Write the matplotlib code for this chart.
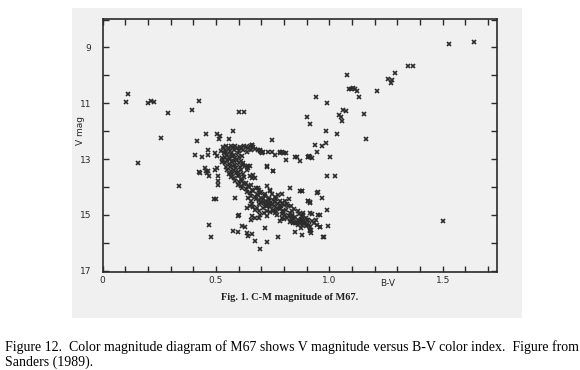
"""Colour-magnitude diagram of M67 (scan of Sanders 1989, Fig. 1) with page caption."""
import matplotlib; matplotlib.use('Agg')
import matplotlib.pyplot as plt
from matplotlib.ticker import MultipleLocator, FixedFormatter, FixedLocator
from matplotlib.patches import Rectangle

# --- data: B-V colour and V magnitude, grouped by region ---
blue_bv = [0.113, 0.103, 0.200, 0.211, 0.228, 0.287, 0.395, 0.423, 0.603, 0.623,
           0.256, 0.154, 0.337, 0.415, 0.456, 0.506, 0.518, 0.515, 0.556, 0.576,
           0.407, 0.437, 0.466, 0.466, 0.426, 0.454, 0.491, 0.498, 0.470, 0.476]
blue_v = [10.68, 10.96, 11.00, 10.92, 10.94, 11.34, 11.23, 10.91, 11.30, 11.30,
          12.25, 13.13, 13.95, 12.36, 12.11, 12.10, 12.19, 12.29, 12.29, 12.01,
          12.85, 12.93, 12.69, 12.85, 13.46, 13.42, 14.42, 14.42, 15.36, 15.80]

giant_bv = [1.527, 1.637, 1.348, 1.369, 1.290, 1.260, 1.277, 1.270, 1.079, 1.085,
            1.094, 1.103, 1.112, 1.120, 1.132, 1.211, 0.942, 0.991, 1.061, 1.072,
            1.153, 1.044, 1.051, 1.054, 0.903, 0.913, 0.984, 1.034, 1.161, 0.936,
            0.966, 0.985, 0.745, 0.856, 0.907, 0.914, 0.922, 1.003, 0.947, 0.911,
            0.988, 1.025, 0.948, 0.906, 0.914, 0.966, 1.503]
giant_v = [8.87, 8.80, 9.67, 9.67, 9.92, 10.13, 10.18, 10.29, 9.98, 10.48,
           10.48, 10.46, 10.50, 10.56, 10.78, 10.55, 10.76, 10.99, 11.26, 11.28,
           11.38, 11.43, 11.50, 11.62, 11.50, 11.74, 11.99, 12.12, 12.29, 12.50,
           12.55, 12.41, 12.32, 12.93, 12.93, 12.93, 12.97, 12.93, 12.76, 12.88,
           13.62, 13.62, 14.19, 14.49, 14.55, 14.38, 15.23]

subgiant_bv = [0.657, 0.664, 0.686, 0.694, 0.701, 0.694, 0.709, 0.747, 0.782, 0.792,
               0.807, 0.809, 0.848, 0.870, 0.907, 0.726, 0.753, 0.657, 0.672, 0.700,
               0.730, 0.760, 0.780, 0.800]
subgiant_v = [12.49, 12.57, 12.67, 12.73, 12.79, 12.67, 12.75, 12.76, 12.79, 12.76,
              12.79, 13.03, 12.93, 13.06, 12.94, 13.28, 13.44, 12.49, 12.64, 12.75,
              12.75, 12.85, 12.75, 12.78]

turnoff_bv = [0.530, 0.545, 0.556, 0.566, 0.575, 0.585, 0.594, 0.604, 0.612, 0.622,
              0.631, 0.640, 0.648, 0.655, 0.538, 0.560, 0.580, 0.600, 0.618, 0.635,
              0.520, 0.545,
              0.535, 0.550, 0.565, 0.580, 0.595, 0.540, 0.555, 0.570, 0.585, 0.600,
              0.532, 0.548, 0.562, 0.578, 0.592, 0.608, 0.540, 0.555, 0.570, 0.585,
              0.600, 0.545, 0.560, 0.575, 0.590, 0.605, 0.550, 0.565, 0.580, 0.595,
              0.612, 0.558, 0.572, 0.588, 0.603, 0.618, 0.566, 0.580, 0.596, 0.612,
              0.625, 0.528, 0.525, 0.615, 0.620]
turnoff_v = [12.58, 12.55, 12.60, 12.52, 12.58, 12.55, 12.62, 12.56, 12.60, 12.53,
             12.58, 12.62, 12.55, 12.66, 12.68, 12.70, 12.68, 12.72, 12.69, 12.74,
             12.72, 12.76,
             12.80, 12.84, 12.82, 12.86, 12.80, 12.92, 12.95, 12.90, 12.96, 12.92,
             13.02, 13.05, 13.00, 13.08, 13.04, 13.06, 13.15, 13.18, 13.12, 13.20,
             13.16, 13.28, 13.30, 13.25, 13.32, 13.28, 13.40, 13.42, 13.38, 13.45,
             13.40, 13.52, 13.55, 13.50, 13.58, 13.52, 13.65, 13.68, 13.62, 13.70,
             13.64, 13.10, 12.95, 12.88, 13.22]

ms_bv = [0.585, 0.600, 0.615, 0.630, 0.595, 0.610, 0.625, 0.640, 0.655, 0.615,
         0.630, 0.645, 0.660, 0.675, 0.635, 0.650, 0.665, 0.680, 0.695, 0.655,
         0.670, 0.685, 0.700, 0.715, 0.675, 0.690, 0.705, 0.720, 0.735,
         0.700, 0.715, 0.730, 0.745, 0.760, 0.775, 0.725, 0.740, 0.755, 0.770,
         0.785, 0.800, 0.750, 0.765, 0.780, 0.795, 0.810, 0.825, 0.790, 0.805,
         0.820, 0.835, 0.850, 0.815, 0.830, 0.845, 0.860, 0.875, 0.855, 0.870,
         0.885, 0.900]
ms_v = [13.78, 13.82, 13.78, 13.85, 13.92, 13.95, 13.90, 13.98, 13.92, 14.05,
        14.08, 14.02, 14.10, 14.05, 14.18, 14.22, 14.16, 14.25, 14.20, 14.32,
        14.35, 14.30, 14.38, 14.32, 14.45, 14.48, 14.44, 14.50, 14.46,
        14.56, 14.60, 14.58, 14.62, 14.55, 14.60, 14.70, 14.72, 14.68, 14.74,
        14.70, 14.65, 14.82, 14.85, 14.80, 14.88, 14.84, 14.92, 14.98, 15.00,
        15.04, 15.00, 15.08, 15.12, 15.16, 15.14, 15.20, 15.16, 15.28, 15.30,
        15.26, 15.32]

# broad part of the lower main sequence
ms_wide_bv = [0.640, 0.655, 0.660, 0.690, 0.705, 0.720, 0.735, 0.750, 0.765, 0.780,
              0.790, 0.805, 0.815, 0.820, 0.760, 0.775, 0.745, 0.700, 0.715, 0.690,
              0.830, 0.845, 0.860, 0.865, 0.880, 0.895, 0.905, 0.910, 0.895, 0.880,
              0.860, 0.840, 0.825, 0.800, 0.790, 0.770, 0.760, 0.740, 0.725, 0.710,
              0.690, 0.680, 0.665, 0.930, 0.940, 0.945]
ms_wide_v = [14.40, 14.50, 14.62, 14.60, 14.55, 14.68, 14.40, 14.48, 14.42, 14.50,
             14.58, 14.52, 14.60, 14.45, 14.35, 14.30, 14.25, 14.18, 14.25, 14.10,
             14.70, 14.78, 14.85, 14.98, 15.05, 15.10, 15.20, 15.35, 15.40, 15.35,
             15.38, 15.30, 15.25, 15.15, 15.10, 15.02, 14.95, 14.90, 14.85, 14.92,
             14.85, 14.75, 14.72, 15.30, 15.20, 15.35]

field_bv = [0.650, 0.657, 0.664, 0.672, 0.642, 0.723, 0.753, 0.723, 0.738, 0.686,
            0.826, 0.878, 0.584, 0.620, 0.628, 0.635, 0.642, 0.650, 0.451, 0.466,
            0.495, 0.459, 0.429, 0.495, 0.503, 0.510, 0.510, 0.510, 0.470, 0.506,
            0.635, 0.650, 0.672, 0.708, 0.738, 0.753, 0.782, 0.797, 0.819, 0.834,
            0.834, 0.885, 0.915, 0.598, 0.657, 0.672, 0.694, 0.600, 0.656, 0.691,
            0.723, 0.576, 0.598, 0.613, 0.628, 0.635, 0.642, 0.657, 0.672, 0.694,
            0.723, 0.775, 0.716, 0.848, 0.878, 0.914, 0.917, 0.958, 0.995, 0.973,
            0.948, 0.988, 0.907, 0.914, 0.944, 0.878, 0.790, 0.738, 0.782, 0.834,
            0.848, 0.870, 0.885, 0.900, 0.922, 0.878, 0.885, 0.892, 0.875, 0.915,
            0.919, 0.959, 0.915, 0.976, 0.885, 0.922, 0.959, 0.870]
field_v = [13.62, 13.68, 13.56, 13.68, 13.26, 13.26, 13.44, 13.98, 14.10, 14.04,
           14.04, 14.16, 14.39, 13.14, 13.26, 13.38, 13.32, 13.26, 13.32, 13.44,
           13.38, 13.50, 13.50, 12.79, 12.88, 13.62, 13.80, 13.92, 13.60, 13.32,
           14.75, 14.69, 14.81, 14.75, 14.63, 14.87, 14.75, 14.87, 14.69, 14.87,
           15.05, 14.99, 14.93, 15.05, 15.05, 15.11, 14.99, 15.02, 15.18, 15.10,
           15.04, 15.59, 15.62, 15.41, 15.43, 15.64, 15.76, 15.68, 15.94, 16.24,
           15.98, 15.79, 15.46, 15.62, 15.74, 15.53, 15.64, 15.43, 15.41, 15.79,
           14.99, 14.81, 14.51, 14.57, 14.21, 14.16, 14.27, 14.13, 15.23, 15.23,
           15.29, 15.23, 15.29, 15.17, 15.23, 15.17, 15.23, 15.29, 15.46, 15.44,
           15.56, 15.43, 15.59, 15.79, 14.93, 14.96, 15.02, 14.16]

groups = [(blue_bv, blue_v), (giant_bv, giant_v), (subgiant_bv, subgiant_v),
          (turnoff_bv, turnoff_v), (ms_bv, ms_v), (ms_wide_bv, ms_wide_v),
          (field_bv, field_v)]

ink = '#2b2b2b'
fig = plt.figure(figsize=(5.8, 3.7), dpi=100)
fig.patch.set_facecolor('white')
# grey scanned page area, kept behind the axes
fig.patches.append(Rectangle((72/580, 1-318/370), 450/580, 310/370,
                             transform=fig.transFigure, facecolor='#f0f0f0',
                             edgecolor='none', zorder=-10))

ax = fig.add_axes([102.7/580, 1-272/370, 394/580, 253/370])
ax.set_zorder(5)
ax.set_facecolor('none')
for bv, v in groups:
    ax.plot(bv, v, ls='none', marker='x', ms=3.3, mew=1.2, color=ink)

ax.set_xlim(0, 1.738)
ax.set_ylim(17.05, 7.98)
ax.xaxis.set_major_locator(FixedLocator([0, 0.5, 1.0, 1.5]))
ax.xaxis.set_major_formatter(FixedFormatter(['0', '0.5', '1.0', '1.5']))
ax.xaxis.set_minor_locator(MultipleLocator(0.1))
ax.yaxis.set_major_locator(FixedLocator([9, 11, 13, 15, 17]))
ax.yaxis.set_minor_locator(MultipleLocator(1))
ax.tick_params(which='both', direction='in', top=True, right=True, length=4,
               width=1.0, color=ink, labelsize=6.5, labelcolor=ink)
ax.tick_params(axis='y', pad=8)
ax.tick_params(axis='x', pad=3)
for s in ax.spines.values():
    s.set_linewidth(1.2); s.set_color(ink)

fig.text(80.5/580, 1-131/370, 'V mag', rotation=90, ha='center', va='center',
         fontsize=6.5, color=ink, zorder=6)
fig.text(388/580, 1-283/370, 'B-V', ha='center', va='center', fontsize=6.5,
         color=ink, zorder=6)
fig.text(290/580, 1-297.5/370, 'Fig. 1. C-M magnitude of M67.', family='Liberation Serif',
         fontweight='bold', fontsize=7.5, ha='center', va='center', color='#222222', zorder=6)

fig.text(5/580, 1-347/370,
         'Figure 12.  Color magnitude diagram of M67 shows V magnitude versus B-V color index.  Figure from',
         family='Liberation Serif', fontsize=10, ha='left', va='center', color='black')
fig.text(5/580, 1-362/370, 'Sanders (1989).', family='Liberation Serif', fontsize=10,
         ha='left', va='center', color='black')

fig.savefig('out.png', dpi=100)
